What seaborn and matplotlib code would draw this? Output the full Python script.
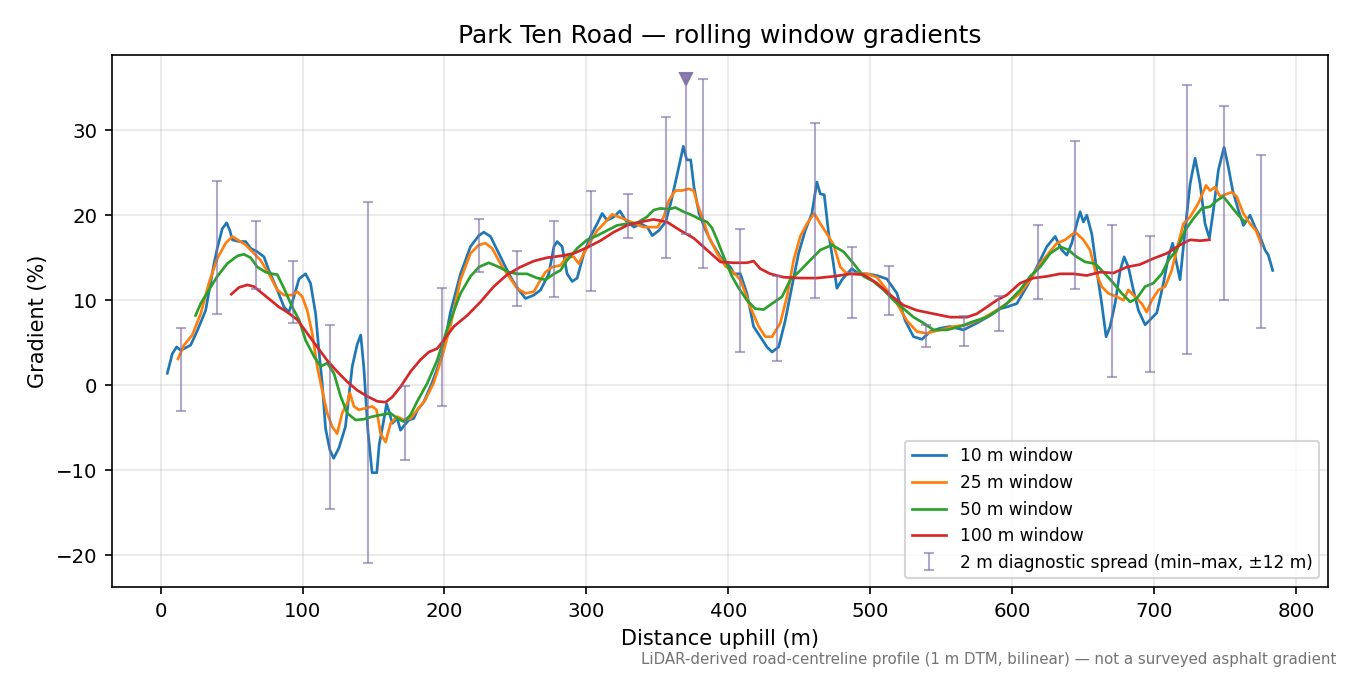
import numpy as np
import matplotlib
matplotlib.use("Agg")
import matplotlib.pyplot as plt
import seaborn as sns

# rolling window gradients
x10 = [4.7, 8.2, 11.3, 14.1, 21.1, 25.8, 31.7, 37.6, 39.9, 43.4, 46.5, 48.8, 50.5, 55.2, 59.9, 63.4,
       68.1, 72.8, 76.3, 82.2, 86.9, 90.4, 93.9, 97.5, 102.1, 105.6, 109.2, 111.5, 113.8, 116.2, 119.2,
       121.9, 125.6, 130.2, 135.0, 138.5, 141.0, 143.2, 146.0, 149.0, 152.3, 154.0, 156.8, 159.2, 160.8,
       163.2, 166.7, 169.0, 171.8, 174.9, 178.4, 181.0, 185.4, 191.3, 195.0, 199.0, 204.2, 211.3, 218.3,
       224.2, 227.7, 232.4, 237.1, 243.0, 247.7, 252.4, 257.1, 263.0, 267.7, 273.5, 277.1, 279.4, 282.9,
       286.4, 290.0, 293.5, 298.2, 302.9, 307.6, 311.1, 314.6, 319.4, 323.6, 327.6, 333.5, 338.2, 342.9,
       346.4, 351.1, 355.8, 359.4, 364.1, 368.3, 370.7, 373.5, 375.8, 379.4, 384.1, 387.5, 394.4, 401.4,
       404.1, 408.5, 413.1, 417.8, 422.5, 427.2, 430.8, 435.5, 440.1, 444.8, 449.5, 454.2, 458.9, 462.4,
       464.8, 467.6, 470.7, 473.7, 476.5, 480.1, 483.6, 487.1, 491.8, 497.7, 504.7, 511.7, 518.8, 524.6,
       530.5, 536.4, 542.3, 549.3, 556.3, 565.7, 575.1, 584.5, 591.5, 596.2, 603.3, 610.3, 617.4, 624.4,
       630.3, 635.0, 638.5, 642.0, 645.5, 647.9, 650.2, 652.6, 656.1, 659.6, 663.1, 666.2, 669.0, 672.5,
       676.1, 678.9, 681.9, 685.4, 689.0, 693.7, 697.2, 701.9, 706.6, 710.1, 713.1, 715.9, 718.3, 721.8,
       725.4, 728.9, 732.4, 735.9, 739.0, 741.8, 745.3, 749.3, 752.3, 755.4, 759.4, 763.0, 767.6, 771.1,
       774.6, 778.2, 780.5, 783.6]
g10 = [1.4, 3.7, 4.5, 4.1, 4.7, 6.4, 8.8, 14.3, 16.1, 18.4, 19.1, 18.2, 17.1, 16.9, 16.9, 16.1,
       15.7, 15.1, 13.5, 11.2, 9.2, 8.6, 10.4, 12.5, 13.1, 12.0, 8.4, 4.1, 0.3, -5.1, -7.6,
       -8.6, -7.4, -4.9, 2.2, 4.8, 5.9, 2.0, -5.3, -10.3, -10.3, -7.0, -4.5, -2.2, -3.0,
       -4.5, -3.9, -5.3, -4.7, -4.1, -3.9, -2.9, -2.0, 0.3, 2.0, 4.0, 8.6, 13.1, 16.3,
       17.6, 18.0, 17.5, 15.9, 13.9, 12.4, 11.2, 10.2, 10.6, 11.2, 13.1, 16.3, 16.9, 16.3,
       13.1, 12.2, 12.6, 15.5, 17.5, 19.0, 20.2, 19.4, 19.8, 20.5, 19.4, 18.6, 19.0, 18.6,
       17.6, 18.2, 19.2, 21.4, 24.9, 28.1, 26.5, 26.5, 23.3, 20.2, 18.2, 17.0, 15.1, 13.9,
       13.1, 13.1, 10.8, 6.9, 5.7, 4.5, 3.9, 4.5, 7.6, 11.6, 15.5, 18.2, 20.2, 23.9,
       22.5, 22.4, 17.8, 14.7, 11.4, 12.4, 13.1, 13.7, 13.1, 13.1, 12.9, 12.5, 10.8, 7.6,
       5.7, 5.4, 6.3, 6.7, 6.9, 6.5, 7.3, 8.2, 9.0, 9.2, 9.6, 11.6, 13.9, 16.3,
       17.5, 15.9, 15.3, 16.7, 19.0, 20.4, 19.2, 20.0, 17.8, 13.5, 9.6, 5.7, 6.9, 9.6,
       13.5, 15.1, 13.9, 11.2, 8.8, 7.1, 7.7, 8.5, 12.0, 15.1, 16.7, 14.3, 12.4, 18.2,
       23.7, 26.7, 23.7, 19.0, 17.3, 20.6, 25.3, 28.0, 25.7, 22.9, 20.6, 18.8, 20.0, 18.6,
       17.5, 15.9, 15.3, 13.5]

x25 = [12.2, 16.4, 22.3, 28.2, 34.0, 39.9, 45.8, 50.5, 55.2, 59.9, 64.6, 70.4, 76.3, 82.2, 86.9,
       92.7, 96.3, 99.8, 103.3, 106.8, 110.3, 113.8, 117.4, 120.9, 124.4, 127.9, 131.5, 133.3, 136.2,
       139.7, 144.4, 149.1, 152.1, 155.0, 158.5, 162.0, 166.7, 171.4, 176.1, 180.8, 186.6, 192.5, 198.4,
       204.2, 211.3, 218.3, 224.2, 228.9, 233.6, 239.4, 245.3, 251.2, 257.0, 263.0, 267.7, 271.2, 275.9,
       281.7, 286.4, 291.1, 294.6, 298.2, 302.9, 307.6, 312.3, 318.1, 322.8, 328.6, 334.5, 339.9, 345.1,
       350.2, 354.5, 358.0, 362.7, 367.4, 372.1, 375.6, 378.0, 381.5, 386.2, 392.1, 398.0, 404.0, 408.5,
       415.5, 421.4, 426.1, 430.8, 436.6, 441.3, 446.0, 450.7, 455.4, 460.6, 464.8, 469.5, 474.2, 478.9,
       483.6, 490.6, 497.7, 504.7, 511.7, 518.8, 525.8, 532.9, 539.9, 549.3, 558.7, 568.1, 577.5, 586.9,
       596.2, 605.6, 612.7, 619.7, 625.6, 631.5, 637.3, 644.4, 650.2, 654.9, 658.5, 663.1, 667.8, 673.7,
       678.4, 681.9, 686.6, 691.3, 694.8, 698.4, 703.1, 707.8, 712.4, 717.1, 720.7, 725.4, 731.2, 736.6,
       739.4, 743.0, 746.5, 751.2, 754.7, 758.2, 762.9, 767.6, 771.8, 775.8]
g25 = [3.1, 4.7, 5.9, 8.4, 12.0, 14.9, 16.7, 17.5, 17.0, 16.5, 15.7, 14.7, 13.1, 11.2, 10.6,
       10.6, 11.0, 10.4, 8.8, 6.1, 2.2, -0.6, -3.3, -4.9, -5.7, -3.3, -2.1, -0.9, -2.5,
       -2.9, -2.7, -2.5, -2.9, -5.7, -6.7, -4.5, -3.7, -4.1, -3.9, -2.9, -1.7, 0.3, 3.4,
       7.0, 12.4, 15.5, 16.5, 16.7, 16.1, 14.3, 12.8, 11.4, 10.8, 11.0, 12.4, 13.3, 13.9,
       14.1, 15.1, 15.1, 14.3, 15.5, 16.9, 18.2, 19.0, 20.1, 19.8, 19.4, 19.0, 18.6, 18.6,
       18.6, 19.8, 21.7, 22.9, 22.9, 23.1, 22.9, 21.4, 19.8, 17.5, 15.5, 14.0, 13.2, 12.4,
       9.2, 6.9, 5.7, 5.7, 7.3, 10.4, 14.7, 17.5, 19.0, 20.2, 19.0, 17.8, 16.5, 13.9,
       13.1, 13.1, 13.1, 12.7, 11.2, 9.6, 7.6, 6.3, 6.1, 6.5, 6.9, 7.1, 7.7, 8.6,
       9.6, 10.8, 12.4, 14.3, 15.5, 16.7, 17.1, 18.0, 17.1, 15.9, 13.5, 11.6, 10.8, 10.4,
       10.0, 11.2, 10.4, 9.6, 8.6, 10.0, 11.2, 11.6, 13.5, 16.7, 19.0, 19.8, 21.4, 23.5,
       22.9, 23.3, 22.2, 22.5, 22.7, 22.2, 20.2, 19.0, 18.2, 16.5]

x50 = [24.6, 28.2, 34.0, 39.9, 46.9, 54.0, 58.6, 63.4, 68.1, 74.0, 78.6, 82.2, 86.9, 92.7, 97.5,
       102.1, 108.0, 112.7, 117.4, 122.1, 126.8, 131.5, 137.4, 143.2, 149.1, 155.0, 162.0, 166.7, 171.4,
       176.1, 180.8, 187.8, 194.8, 201.9, 211.3, 218.3, 224.2, 231.2, 238.3, 245.3, 251.2, 258.2, 265.3,
       271.2, 277.1, 281.7, 286.4, 293.5, 300.5, 307.6, 314.6, 321.6, 328.6, 335.7, 342.7, 347.4, 352.1,
       358.0, 362.7, 368.5, 374.4, 380.3, 385.0, 388.5, 392.1, 396.8, 402.6, 407.0, 413.1, 419.0, 424.9,
       430.8, 437.8, 443.7, 450.7, 457.7, 464.8, 473.0, 481.2, 488.3, 495.3, 502.3, 509.4, 516.4, 523.5,
       530.5, 537.6, 544.6, 554.0, 563.4, 572.8, 582.2, 591.5, 596.2, 605.6, 612.7, 619.7, 626.8, 633.8,
       639.7, 645.5, 651.4, 658.5, 664.3, 671.4, 677.2, 683.1, 687.8, 693.7, 699.5, 705.4, 710.1, 716.0,
       721.8, 727.7, 733.6, 739.4, 744.1, 748.8, 753.5, 759.4, 764.1]
g50 = [8.2, 9.6, 11.2, 12.8, 14.3, 15.2, 15.4, 15.0, 13.9, 13.3, 13.1, 13.0, 11.4, 9.2, 7.7,
       5.3, 3.4, 2.2, 2.6, 1.4, -1.3, -3.3, -4.1, -4.0, -3.7, -3.5, -3.3, -3.9, -4.3,
       -3.5, -1.9, 0.2, 2.9, 6.6, 10.8, 12.8, 13.9, 14.4, 13.9, 13.3, 13.1, 13.1, 12.6,
       12.4, 13.1, 13.5, 14.7, 16.1, 17.1, 17.6, 18.2, 18.8, 19.0, 19.1, 19.8, 20.6, 20.8,
       20.7, 20.9, 20.4, 20.0, 19.5, 19.2, 18.5, 17.1, 15.1, 12.8, 11.5, 10.0, 9.0, 8.9,
       9.6, 10.4, 12.4, 13.5, 14.7, 15.9, 16.5, 15.7, 14.3, 12.8, 12.2, 11.2, 10.0, 9.0,
       8.0, 7.3, 6.5, 6.5, 6.9, 7.5, 8.0, 9.0, 9.6, 11.2, 12.8, 13.9, 15.5, 16.3,
       15.9, 15.1, 14.5, 14.3, 13.3, 12.0, 10.8, 9.8, 10.2, 11.6, 12.0, 13.1, 14.7, 15.9,
       18.2, 19.6, 20.8, 21.0, 21.7, 22.2, 21.2, 20.0, 19.2]

x100 = [49.8, 55.2, 61.0, 65.7, 71.6, 77.5, 83.3, 89.2, 96.3, 103.3, 110.3, 117.4, 124.4, 131.5,
        138.5, 145.5, 152.6, 158.5, 163.2, 169.0, 176.1, 183.1, 189.0, 194.8, 199.5, 206.6, 216.0,
        225.4, 234.7, 244.1, 253.5, 262.9, 272.3, 281.7, 291.1, 300.5, 309.9, 319.2, 328.6, 338.0,
        347.4, 356.8, 366.2, 375.6, 385.0, 394.4, 403.8, 413.1, 417.8, 422.5, 429.6, 439.0, 450.7,
        462.4, 474.2, 486.0, 495.3, 504.7, 514.1, 523.5, 532.9, 544.6, 556.3, 568.1, 575.1, 582.2,
        589.2, 596.2, 605.6, 615.0, 624.4, 633.8, 643.2, 652.6, 662.0, 671.4, 680.8, 690.1, 699.5,
        708.9, 718.3, 725.4, 732.4, 739.0]
g100 = [10.7, 11.5, 11.8, 11.6, 10.8, 10.0, 9.2, 8.6, 7.7, 6.1, 4.5, 2.9, 1.6, 0.4,
        -0.6, -1.3, -1.9, -2.0, -1.4, -0.2, 1.6, 3.0, 3.9, 4.3, 5.3, 6.9, 8.2,
        9.8, 11.6, 13.0, 13.9, 14.6, 15.0, 15.2, 15.5, 16.2, 17.0, 18.0, 18.8, 19.2,
        19.5, 19.2, 18.2, 17.3, 15.9, 14.5, 14.4, 14.4, 14.6, 13.7, 13.1, 12.7, 12.6,
        12.6, 12.8, 13.1, 13.0, 12.0, 10.6, 9.4, 8.8, 8.4, 8.0, 8.0, 8.4, 9.2,
        10.0, 10.6, 12.0, 12.6, 12.8, 13.1, 13.1, 12.9, 13.3, 13.2, 13.9, 14.2, 14.9,
        15.5, 16.5, 17.1, 17.0, 17.1]

# 2 m diagnostic spread (min / max within +-12 m)
spread_x = [14, 40, 67, 93, 119, 146, 172, 198, 224, 251, 277, 303, 329, 356, 370, 382,
            408, 434, 461, 487, 513, 539, 566, 591, 618, 644, 670, 697, 723, 749, 775]
spread_lo = [-3.0, 8.4, 11.3, 7.3, -14.6, -20.9, -8.8, -2.4, 13.3, 9.3, 10.4, 11.1, 17.3, 15.0, 17.8, 13.8,
             3.9, 2.8, 10.3, 7.9, 8.2, 4.5, 4.6, 6.4, 10.1, 11.3, 1.0, 1.5, 3.7, 10.0, 6.7]
spread_hi = [6.7, 24.0, 19.3, 14.6, 7.1, 21.5, -0.1, 11.4, 19.5, 15.8, 19.3, 22.9, 22.5, 31.6, 36.0, 36.0,
             18.4, 12.8, 30.8, 16.2, 14.0, 7.1, 8.1, 10.5, 18.9, 28.7, 18.8, 17.5, 35.3, 32.9, 27.1]
clipped = 370     # this one runs off the top, marked with a triangle
clip_top = 36.0

series = [(x10, g10, "10 m window", "tab:blue"),
          (x25, g25, "25 m window", "tab:orange"),
          (x50, g50, "50 m window", "tab:green"),
          (x100, g100, "100 m window", "tab:red")]

fig = plt.figure(figsize=(9, 4.5), dpi=150)
ax = fig.add_axes([0.083, 0.1304, 0.9007, 0.7881])

for xs, ys, lab, col in series:
    sns.lineplot(x=xs, y=ys, ax=ax, color=col, lw=1.3, label=lab)

sx = np.array(spread_x, dtype=float)
lo = np.array(spread_lo)
hi = np.array(spread_hi)
keep = sx != clipped
mid = (lo + hi) / 2
bar_col = "#7e6fa8"
ax.errorbar(sx[keep], mid[keep], yerr=[mid[keep] - lo[keep], hi[keep] - mid[keep]],
            fmt="none", ecolor=bar_col, alpha=0.6, elinewidth=1.0, capsize=2.3,
            label="2 m diagnostic spread (min\u2013max, \u00b112 m)")
ci = ~keep
ax.vlines(sx[ci], lo[ci], clip_top, color=bar_col, alpha=0.6, lw=1.0)
ax.plot(sx[ci], lo[ci], ls="none", marker="_", ms=4.6, mew=1.0, color=bar_col, alpha=0.6)
ax.plot(sx[ci], [clip_top], ls="none", marker="v", ms=6, color=bar_col, alpha=0.9)

ax.grid(True, alpha=0.3)
ax.set_xlabel("Distance uphill (m)", fontsize=10)
ax.set_ylabel("Gradient (%)", fontsize=10)
ax.set_title("Park Ten Road \u2014 rolling window gradients", fontsize=12)
ax.tick_params(labelsize=9.5)
ax.legend(loc="lower right", fontsize=8.2)

fig.text(0.99, 0.012, "LiDAR-derived road-centreline profile (1 m DTM, bilinear) \u2014 not a surveyed asphalt gradient",
         ha="right", va="bottom", fontsize=7.2, color="0.45")

fig.savefig("out.png", dpi=150)
